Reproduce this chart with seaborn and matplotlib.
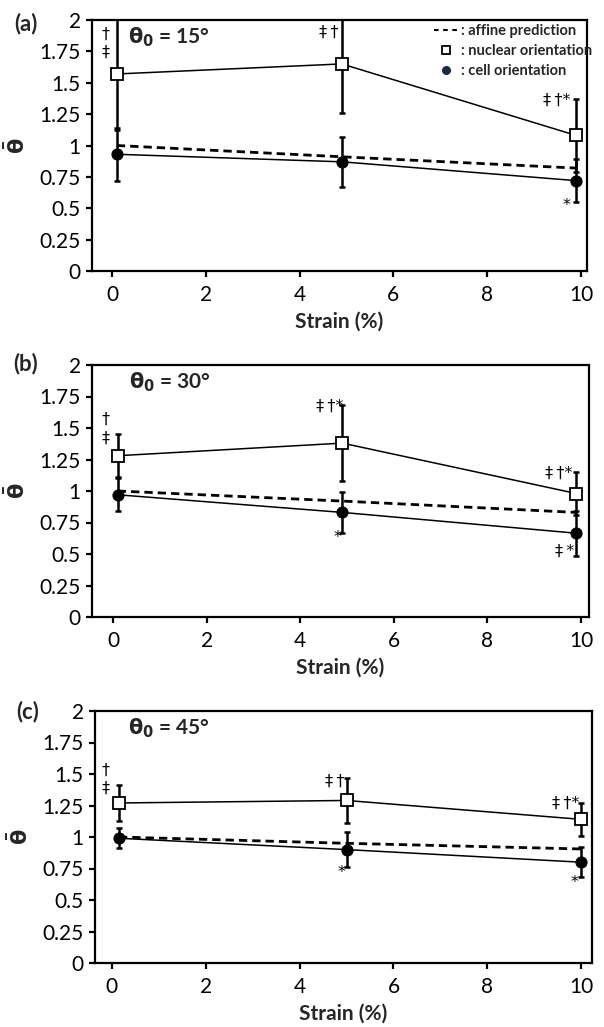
import numpy as np
import pandas as pd
import matplotlib
matplotlib.use("Agg")
import matplotlib.pyplot as plt
import seaborn as sns
from matplotlib.lines import Line2D

# ---------------- data ----------------
strain_a = [0.1, 4.9, 9.9]
nuclear_a = [1.57, 1.65, 1.08]
nuclear_err_a = [0.45, 0.39, 0.29]
cell_a = [0.93, 0.87, 0.72]
cell_err_a = [0.21, 0.20, 0.17]
affine_a = [1.00, 0.91, 0.82]

strain_b = [0.1, 4.9, 9.9]
nuclear_b = [1.28, 1.38, 0.98]
nuclear_err_b = [0.17, 0.30, 0.17]
cell_b = [0.97, 0.83, 0.665]
cell_err_b = [0.13, 0.16, 0.18]
affine_b = [1.00, 0.92, 0.83]

strain_c = [0.15, 5.0, 10.0]
nuclear_c = [1.27, 1.29, 1.14]
nuclear_err_c = [0.14, 0.18, 0.13]
cell_c = [0.99, 0.90, 0.80]
cell_err_c = [0.08, 0.14, 0.12]
affine_c = [1.00, 0.95, 0.905]

panel_letters = ["(a)", "(b)", "(c)"]
theta0_labels = ["15°", "30°", "45°"]

# significance marks: (x, y, text)
T = "\u2009"
marks_a = [(-0.13, 1.89, "†"), (-0.13, 1.74, "‡"), (4.62, 1.90, "‡" + T + "†"),
           (9.49, 1.36, "‡" + T + "†*"), (9.70, 0.52, "*")]
marks_b = [(-0.15, 1.57, "†"), (-0.15, 1.42, "‡"), (4.62, 1.67, "‡" + T + "†*"),
           (9.53, 1.14, "‡" + T + "†*"), (4.79, 0.63, "*"), (9.64, 0.52, "‡" + T + "*")]
marks_c = [(-0.13, 1.53, "†"), (-0.13, 1.39, "‡"), (4.75, 1.44, "‡" + T + "†"),
           (9.66, 1.27, "‡" + T + "†*"), (4.90, 0.72, "*"), (9.85, 0.64, "*")]

yticks = [0, 0.25, 0.5, 0.75, 1, 1.25, 1.5, 1.75, 2]
ytick_labels = ["0", "0.25", "0.5", "0.75", "1", "1.25", "1.5", "1.75", "2"]
xticks = [0, 2, 4, 6, 8, 10]

legend_labels = [": affine prediction", ": nuclear orientation", ": cell orientation"]

# ---------------- style ----------------
sns.set_theme(style="ticks")
plt.rcParams["font.family"] = ["Lato", "DejaVu Sans"]
plt.rcParams["mathtext.fontset"] = "dejavusans"
plt.rcParams["axes.linewidth"] = 1.6

W, H = 604, 1027
fig = plt.figure(figsize=(W / 100, H / 100), dpi=100)

def rect(l, r, t, b):
    return (l / W, (H - b) / H, (r - l) / W, (b - t) / H)

rects = [rect(92, 587, 20, 271), rect(92, 589, 365, 617), rect(95, 592, 711, 963)]
xlims = [(-0.43, 10.13), (-0.45, 10.17), (-0.36, 10.23)]
letter_pos = [(26, 24), (26, 364), (28, 712)]

panels = [
    (strain_a, nuclear_a, nuclear_err_a, cell_a, cell_err_a, affine_a, marks_a),
    (strain_b, nuclear_b, nuclear_err_b, cell_b, cell_err_b, affine_b, marks_b),
    (strain_c, nuclear_c, nuclear_err_c, cell_c, cell_err_c, affine_c, marks_c),
]

for i, (x, nuc, nuc_err, cell, cell_err, aff, marks) in enumerate(panels):
    ax = fig.add_axes(rects[i])
    ax.set_facecolor("white")

    # affine prediction (dashed)
    sns.lineplot(x=x, y=aff, ax=ax, color="black", lw=2.0,
                 linestyle=(0, (3, 1.8)), zorder=2)
    # error bars
    ax.errorbar(x, nuc, yerr=nuc_err, fmt="none", ecolor="black",
                elinewidth=1.8, capsize=2.5, capthick=1.8, zorder=3)
    ax.errorbar(x, cell, yerr=cell_err, fmt="none", ecolor="black",
                elinewidth=1.8, capsize=2.5, capthick=1.8, zorder=3)
    # nuclear orientation
    sns.lineplot(x=x, y=nuc, ax=ax, color="black", lw=1.1, marker="s",
                 markersize=9, markerfacecolor="white", markeredgecolor="black",
                 markeredgewidth=1.3, zorder=4)
    # cell orientation
    sns.lineplot(x=x, y=cell, ax=ax, color="black", lw=1.1, marker="o",
                 markersize=8, markerfacecolor="black", markeredgecolor="black",
                 zorder=4)

    ax.set_xlim(*xlims[i])
    ax.set_ylim(0, 2)
    ax.set_yticks(yticks)
    ax.set_yticklabels(ytick_labels)
    ax.set_xticks(xticks)
    ax.tick_params(axis="both", direction="out", length=4, width=1.6,
                   labelsize=15, colors="black", pad=4)
    ax.tick_params(axis="x", pad=6)
    for s in ax.spines.values():
        s.set_visible(True)
        s.set_color("black")
        s.set_linewidth(1.6)

    ax.set_xlabel("Strain (%)", fontsize=15, fontweight="bold", labelpad=5)
    ax.set_ylabel(r"$\mathbf{\bar{\theta}}$", fontsize=16, labelpad=8)

    ax.text(0.34, 1.86, r"$\mathbf{\theta_0}$ = " + theta0_labels[i],
            fontsize=15, fontweight="bold", ha="left", va="center")

    for (mx, my, mt) in marks:
        ax.text(mx, my, mt, fontsize=11.5, ha="center", va="center",
                color="black", family="DejaVu Sans")

    fig.text(letter_pos[i][0] / W, 1 - letter_pos[i][1] / H, panel_letters[i],
             fontsize=16, fontweight="bold", ha="center", va="center")

    if i == 0:
        handles = [
            Line2D([], [], color="black", lw=1.5, linestyle=(0, (2.2, 2.2))),
            Line2D([], [], color="black", lw=0, marker="s", markersize=6,
                   markerfacecolor="white", markeredgecolor="black", markeredgewidth=1.3),
            Line2D([], [], color="#1b2a48", lw=0, marker="o", markersize=5.5),
        ]
        ax.legend(handles, legend_labels, loc="upper right",
                  bbox_to_anchor=(1.02, 1.0), frameon=False,
                  prop={"size": 10.5, "weight": "bold"}, handlelength=1.7,
                  handletextpad=0.2, labelspacing=0.4, borderaxespad=0.1,
                  borderpad=0.2)

fig.savefig("out.png", dpi=100, facecolor="white")
